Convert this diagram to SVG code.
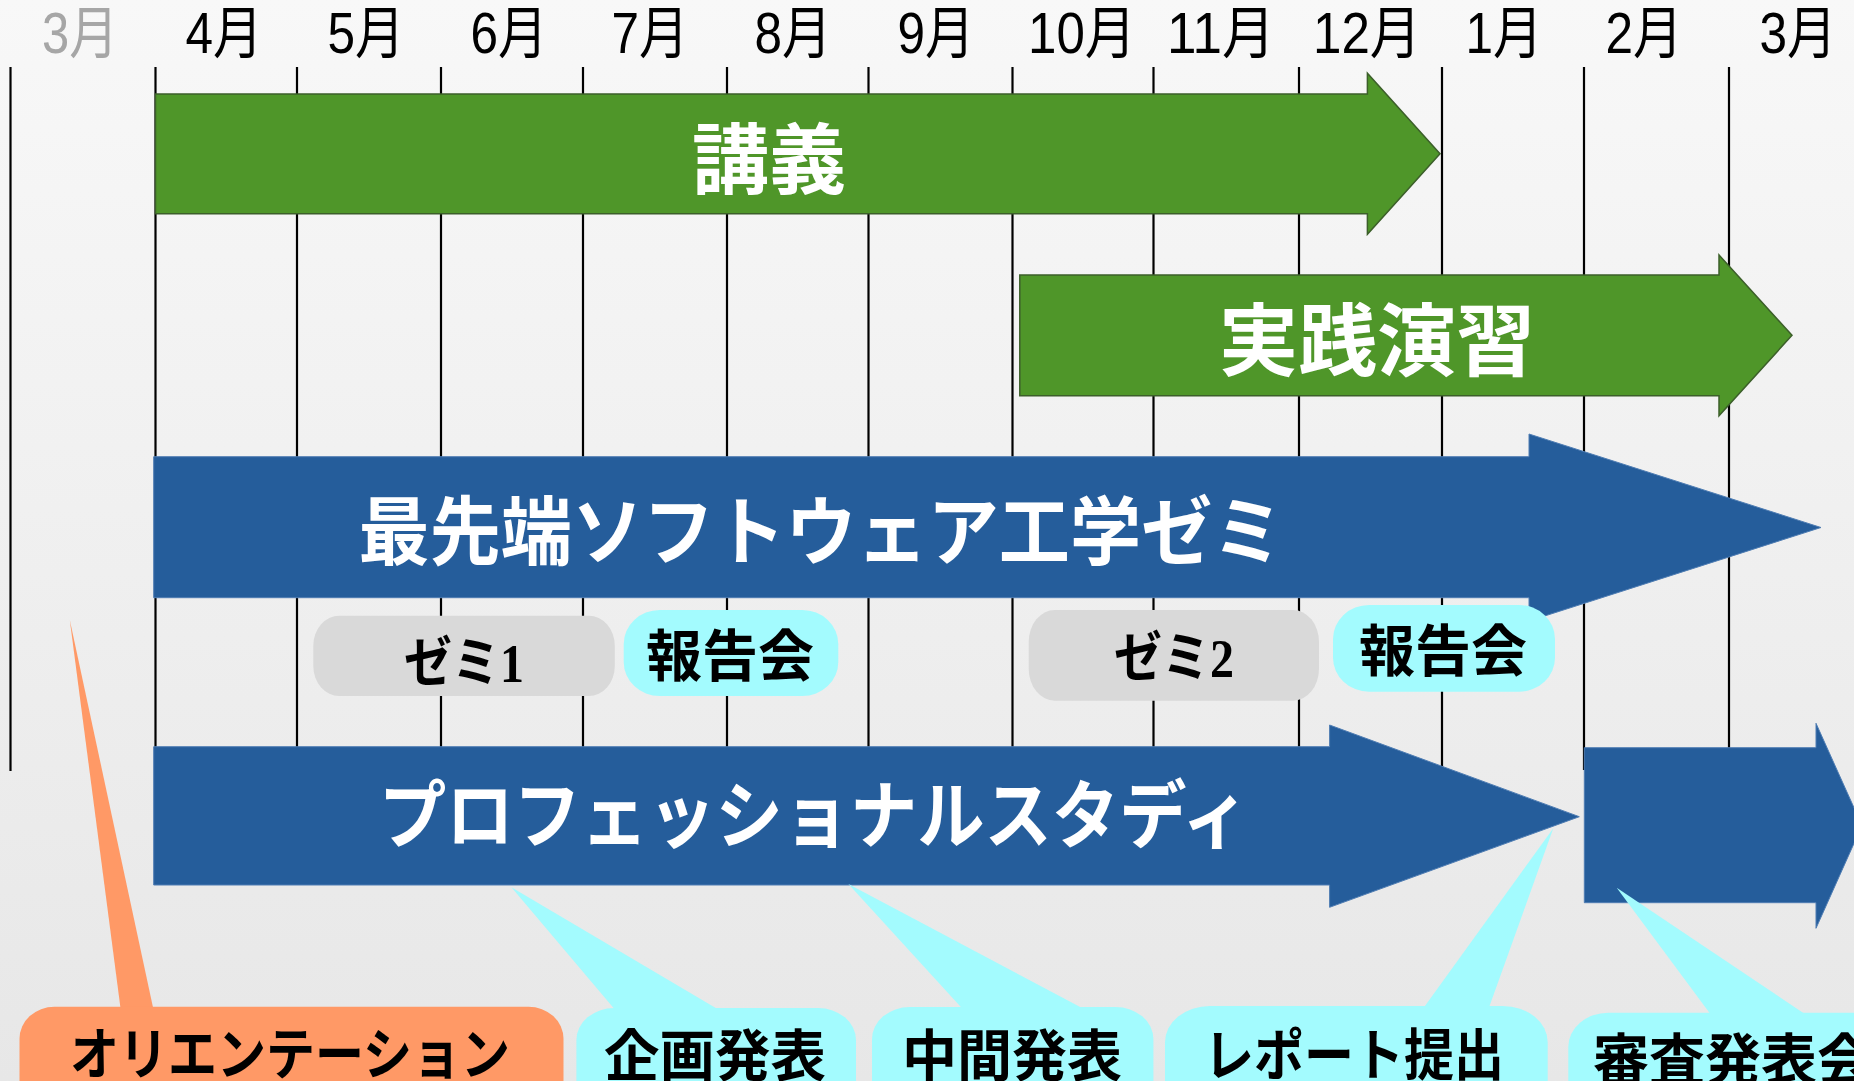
<svg xmlns="http://www.w3.org/2000/svg" width="1854" height="1081" viewBox="0 0 1854 1081">
<defs>
<linearGradient id="bg" x1="0" y1="0" x2="0" y2="1">
<stop offset="0" stop-color="#F8F8F8"/>
<stop offset="1" stop-color="#E7E7E7"/>
</linearGradient>
<style>
.month{font-family:"Liberation Sans","Noto Sans CJK JP",sans-serif;font-size:57px;fill:#000;text-anchor:middle}
.grid{stroke:#000;stroke-width:2.2;fill:none}
.green{fill:#4F9629;stroke:#3C5F2A;stroke-width:1.5}
.blue{fill:#255D9B;stroke:#4F7DB3;stroke-width:1}
.big{font-family:"Liberation Sans","Noto Sans CJK JP",sans-serif;font-weight:bold;fill:#fff;text-anchor:middle}
.lbl{font-family:"Liberation Sans","Noto Sans CJK JP",sans-serif;font-weight:bold;fill:#000;text-anchor:middle;font-size:56px}
.seri{font-family:"Liberation Serif","Noto Sans CJK JP",serif;font-weight:bold;fill:#000;text-anchor:middle;font-size:54px}
.gray{fill:#D9D9D9}
.cyan{fill:#A3FBFE}
.orange{fill:#FF9966}
</style>
</defs>
<rect x="0" y="0" width="1854" height="1081" fill="url(#bg)"/>

<g id="months">
<text class="month" x="80" y="53" textLength="76" lengthAdjust="spacingAndGlyphs" style="fill:#A6A6A6">3月</text>
<text class="month" x="224" y="53" textLength="77" lengthAdjust="spacingAndGlyphs">4月</text>
<text class="month" x="366" y="53" textLength="77" lengthAdjust="spacingAndGlyphs">5月</text>
<text class="month" x="509" y="53" textLength="77" lengthAdjust="spacingAndGlyphs">6月</text>
<text class="month" x="650" y="53" textLength="77" lengthAdjust="spacingAndGlyphs">7月</text>
<text class="month" x="793" y="53" textLength="77" lengthAdjust="spacingAndGlyphs">8月</text>
<text class="month" x="936" y="53" textLength="77" lengthAdjust="spacingAndGlyphs">9月</text>
<text class="month" x="1082" y="53" textLength="108" lengthAdjust="spacingAndGlyphs">10月</text>
<text class="month" x="1221" y="53" textLength="108" lengthAdjust="spacingAndGlyphs">11月</text>
<text class="month" x="1367" y="53" textLength="108" lengthAdjust="spacingAndGlyphs">12月</text>
<text class="month" x="1504" y="53" textLength="77" lengthAdjust="spacingAndGlyphs">1月</text>
<text class="month" x="1644" y="53" textLength="77" lengthAdjust="spacingAndGlyphs">2月</text>
<text class="month" x="1798" y="53" textLength="77" lengthAdjust="spacingAndGlyphs">3月</text>
</g>

<g id="grid">
<line class="grid" x1="10.5" y1="67" x2="10.5" y2="771"/>
<line class="grid" x1="155.5" y1="67" x2="155.5" y2="750"/>
<line class="grid" x1="297" y1="67" x2="297" y2="750"/>
<line class="grid" x1="441" y1="67" x2="441" y2="750"/>
<line class="grid" x1="583" y1="67" x2="583" y2="750"/>
<line class="grid" x1="727" y1="67" x2="727" y2="750"/>
<line class="grid" x1="868.5" y1="67" x2="868.5" y2="750"/>
<line class="grid" x1="1012.5" y1="67" x2="1012.5" y2="750"/>
<line class="grid" x1="1153.5" y1="67" x2="1153.5" y2="750"/>
<line class="grid" x1="1299" y1="67" x2="1299" y2="750"/>
<line class="grid" x1="1442" y1="67" x2="1442" y2="800"/>
<line class="grid" x1="1584" y1="67" x2="1584" y2="770"/>
<line class="grid" x1="1729" y1="67" x2="1729" y2="750"/>
</g>

<g id="lecture">
<path class="green" d="M155.5,94 H1367.4 V73.3 L1440,153.8 L1367.4,234.3 V213.7 H155.5 Z"/>
<text class="big" x="769" y="188" font-size="77">講義</text>
</g>

<g id="practice">
<path class="green" d="M1019.8,275 H1719 V255 L1792,335.3 L1719,415.7 V395.7 H1019.8 Z"/>
<text class="big" x="1377" y="370" font-size="79">実践演習</text>
</g>

<g id="seminar">
<path class="blue" d="M153.7,456.7 H1529 V434 L1821,527.5 L1529,621 V597.7 H153.7 Z"/>
<text class="big" x="821" y="559" font-size="75" textLength="925" lengthAdjust="spacingAndGlyphs">最先端ソフトウェア工学ゼミ</text>
</g>

<g id="profstudy">
<path class="blue" d="M153.7,746.7 H1329.6 V725 L1579.3,816.7 L1329.6,907.3 V885 H153.7 Z"/>
<text class="big" x="814" y="842" font-size="74" textLength="870" lengthAdjust="spacingAndGlyphs">プロフェッショナルスタディ</text>
</g>

<g id="profstudy2">
<path class="blue" d="M1584.3,747.7 H1816 V723.3 L1862,825.5 L1816,928.3 V902.7 H1584.3 Z"/>
</g>

<g id="zemi1">
<rect class="gray" x="313.3" y="615.7" width="301.5" height="80.3" rx="26" ry="30"/>
<text class="seri" x="464" y="682" textLength="120" lengthAdjust="spacingAndGlyphs">ゼミ1</text>
</g>

<g id="report1">
<rect class="cyan" x="623.7" y="610" width="214.6" height="86" rx="36" ry="34"/>
<text class="lbl" x="730" y="676">報告会</text>
</g>

<g id="zemi2">
<rect class="gray" x="1028.7" y="610" width="290.3" height="90.7" rx="26" ry="32"/>
<text class="seri" x="1174" y="677" textLength="120" lengthAdjust="spacingAndGlyphs">ゼミ2</text>
</g>

<g id="report2">
<rect class="cyan" x="1333" y="605" width="222" height="86.7" rx="36" ry="34"/>
<text class="lbl" x="1443" y="671">報告会</text>
</g>

<g id="orientation">
<path class="orange" d="M69.8,620 L121,1012 L154,1012 Z"/>
<rect class="orange" x="19.5" y="1006.7" width="544" height="110" rx="35" ry="32"/>
<text class="lbl" x="290" y="1074" font-size="54" textLength="440" lengthAdjust="spacingAndGlyphs">オリエンテーション</text>
</g>

<g id="plan">
<path class="cyan" d="M511.4,887.3 L617.8,1013 L724.2,1013 Z"/>
<rect class="cyan" x="576.4" y="1008" width="279.6" height="110" rx="38" ry="32"/>
<text class="lbl" x="715" y="1076" textLength="222" lengthAdjust="spacingAndGlyphs">企画発表</text>
</g>

<g id="midterm">
<path class="cyan" d="M848.4,884 L965.4,1012 L1089.6,1012 Z"/>
<rect class="cyan" x="872" y="1007" width="281.4" height="110" rx="38" ry="32"/>
<text class="lbl" x="1012" y="1076" textLength="220" lengthAdjust="spacingAndGlyphs">中間発表</text>
</g>

<g id="reportsubmit">
<path class="cyan" d="M1553.3,828.3 L1420.6,1012 L1487.4,1012 Z"/>
<rect class="cyan" x="1165" y="1006" width="382.7" height="110" rx="45" ry="36"/>
<text class="lbl" x="1354" y="1075" textLength="300" lengthAdjust="spacingAndGlyphs">レポート提出</text>
</g>

<g id="review">
<path class="cyan" d="M1616.7,887.7 L1713.3,1018 L1810.8,1018 Z"/>
<rect class="cyan" x="1568.3" y="1012.7" width="330" height="110" rx="40" ry="34"/>
<text class="lbl" x="1593" y="1080" style="text-anchor:start">審査発表会</text>
</g>
</svg>
